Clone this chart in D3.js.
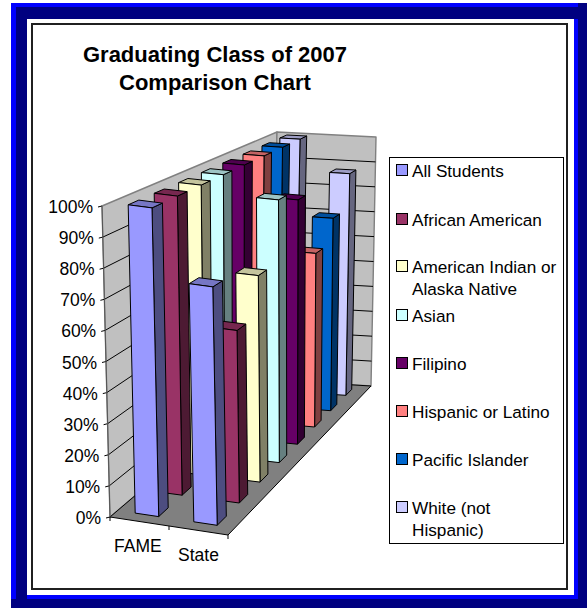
<!DOCTYPE html>
<html><head><meta charset="utf-8">
<script src="https://cdn.jsdelivr.net/npm/d3@7/dist/d3.min.js"></script>
<style>html,body{margin:0;padding:0;background:#fff}svg{display:block}text{font-family:"Liberation Sans",Arial,sans-serif;fill:#000}</style>
</head><body><svg id="c" width="587" height="608"></svg>
<script>
const titleLines = ["Graduating Class of 2007", "Comparison Chart"];
const categories = ["FAME", "State"];
const seriesNames = ["All Students","African American","American Indian or Alaska Native","Asian","Filipino","Hispanic or Latino","Pacific Islander","White (not Hispanic)"];
const fameValues = [100,100,100,100,100,100,100,100];
const stateValues = [77,57.5,71,93,89,65,74,87.5];
const seriesColors = ["#9999FF","#993366","#FFFFCC","#CCFFFF","#660066","#FF8080","#0066CC","#CCCCFF"];
const yTicks = [0,10,20,30,40,50,60,70,80,90,100];
const legendLines = [["All Students"],["African American"],["American Indian or","Alaska Native"],["Asian"],["Filipino"],["Hispanic or Latino"],["Pacific Islander"],["White (not","Hispanic)"]];

const svg = d3.select("#c");
const rect=(x,y,w,h,f)=>svg.append("rect").attr("x",x).attr("y",y).attr("width",w).attr("height",h).attr("fill",f);
// frame
rect(11,3,576,605,"#000080");
rect(11,3,567,4,"#0000FF"); rect(11,3,5,596,"#0000FF");
rect(27,19,551,580,"#0000FF");
rect(27,19,547,576,"#FFFFFF");
svg.append("rect").attr("x",32).attr("y",24).attr("width",535).attr("height",565).attr("fill","#fff").attr("stroke","#202020").attr("stroke-width",2);

// title
titleLines.forEach((t,i)=>svg.append("text").attr("x",215).attr("y",62+i*28).attr("text-anchor","middle").attr("font-weight","bold").attr("font-size",22).text(t));

// projection: corners of the 3D box
const C={fl0:[110,517],fr0:[228,535],bl0:[271,380],br0:[371,386],fl1:[102,206],fr1:[222,222],bl1:[277,132],br1:[376,137]};
const lerp=(a,b,t)=>[a[0]+(b[0]-a[0])*t,a[1]+(b[1]-a[1])*t];
const uScale=d3.scaleBand().domain(categories).range([0,1]).paddingInner(0.6).paddingOuter(0.3);
const dScale=d3.scaleBand().domain(seriesNames).range([0,1]).paddingInner(0.6).paddingOuter(0.3);
const hScale=d3.scaleLinear().domain([0,100]).range([0,1]);
const persp=d=>d/(d+0.78*(1-d));
function P(u,d,h){const t=persp(d);
  const f0=lerp(C.fl0,C.fr0,u),b0=lerp(C.bl0,C.br0,u),f1=lerp(C.fl1,C.fr1,u),b1=lerp(C.bl1,C.br1,u);
  return lerp(lerp(f0,b0,t),lerp(f1,b1,t),h);}
const poly=(pts,fill,stroke,sw)=>svg.append("polygon").attr("points",pts.map(p=>p.map(v=>v.toFixed(1)).join(",")).join(" ")).attr("fill",fill).attr("stroke",stroke||"none").attr("stroke-width",sw||1).attr("stroke-linejoin","round");
const line=(a,b,s,w)=>svg.append("line").attr("x1",a[0]).attr("y1",a[1]).attr("x2",b[0]).attr("y2",b[1]).attr("stroke",s).attr("stroke-width",w||1);

// walls + floor
poly([P(0,0,0),P(0,1,0),P(0,1,1),P(0,0,1)],"#C0C0C0","#808080",1.4);
poly([P(0,1,0),P(1,1,0),P(1,1,1),P(0,1,1)],"#C0C0C0","#808080",1.4);
poly([P(0,0,0),P(1,0,0),P(1,1,0),P(0,1,0)],"#808080");
yTicks.forEach(v=>{const h=hScale(v);
  if(v<100){line(P(0,0,h),P(0,1,h),"#000",1);line(P(0,1,h),P(1,1,h),"#000",1);}
  const p=P(0,0,h); line([p[0]-4,p[1]+1],p,"#000",1);
  svg.append("text").attr("x",p[0]-9).attr("y",p[1]+7).attr("text-anchor","end").attr("font-size",17.5).text(v+"%");
});
line(P(0,0,0),P(1,0,0),"#000",1); line(P(1,0,0),P(1,1,0),"#000",1);
line(P(0,0,0),P(0,0,1),"#555",1);
[0,0.5,1].forEach(u=>{const p=P(u,0,0);line(p,[p[0],p[1]+4],"#000",1);});
categories.forEach((c,i)=>{const p=P(i*0.5+0.25,0,0);
  svg.append("text").attr("x",p[0]-25.5+i*5).attr("y",p[1]+30).attr("font-size",17.5).attr("text-anchor","start").text(c);});

// bars back to front
const mix=(c,k)=>{const r=d3.rgb(c);return d3.rgb(r.r*k,r.g*k,r.b*k).formatHex();};
const vals=[fameValues,stateValues];
for(let s=seriesNames.length-1;s>=0;s--){
  categories.forEach((cat,ci)=>{
    const u0=uScale(cat),u1=u0+uScale.bandwidth(),d0=dScale(seriesNames[s]),d1=d0+dScale.bandwidth(),h=hScale(vals[ci][s]),col=seriesColors[s];
    poly([P(u1,d0,0),P(u1,d1,0),P(u1,d1,h),P(u1,d0,h)],mix(col,0.5),"#000",1);
    poly([P(u0,d0,h),P(u1,d0,h),P(u1,d1,h),P(u0,d1,h)],mix(col,0.77),"#000",1);
    poly([P(u0,d0,0),P(u1,d0,0),P(u1,d0,h),P(u0,d0,h)],col,"#000",1);
  });
}

// legend
svg.append("rect").attr("x",389.5).attr("y",157.5).attr("width",174).attr("height",386).attr("fill","#fff").attr("stroke","#000");
const rowY=[171,220,267,316,364,412,460,508];
legendLines.forEach((ls,i)=>{
  svg.append("rect").attr("x",396.5).attr("y",rowY[i]-6.5).attr("width",11).attr("height",11).attr("fill",seriesColors[i]).attr("stroke","#000");
  ls.forEach((t,j)=>svg.append("text").attr("x",412).attr("y",rowY[i]+6+j*22).attr("font-size",17.2).text(t));
});
</script></body></html>
